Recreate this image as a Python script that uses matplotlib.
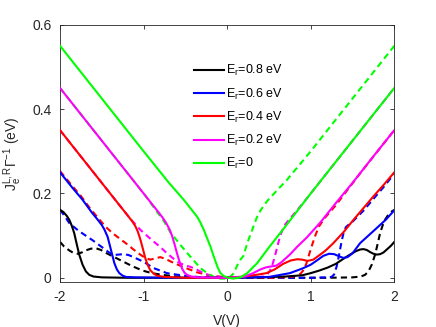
import matplotlib
matplotlib.use("Agg")
import matplotlib.pyplot as plt

plt.rcParams['font.family'] = ['Liberation Sans', 'DejaVu Sans']
plt.rcParams['mathtext.fontset'] = 'custom'
plt.rcParams['mathtext.rm'] = 'Liberation Sans'
plt.rcParams['mathtext.it'] = 'Liberation Sans:italic'

labels = [r'E$_\mathrm{r}$=0.8 eV', r'E$_\mathrm{r}$=0.6 eV', r'E$_\mathrm{r}$=0.4 eV',
          r'E$_\mathrm{r}$=0.2 eV', r'E$_\mathrm{r}$=0']
colors = ['#000000', '#0000ff', '#ff0000', '#ff00ff', '#00ff00']

# Er = 0.8 eV
v_k = [-2.0, -1.96, -1.92, -1.89, -1.86, -1.83, -1.80, -1.77, -1.73, -1.69, -1.65, -1.60,
       -1.5, -1.2, -0.6, 0.0, 0.4, 0.7, 0.9, 1.0, 1.1, 1.2, 1.3, 1.39, 1.47, 1.54, 1.59,
       1.63, 1.67, 1.71, 1.75, 1.79, 1.83, 1.87, 1.91, 1.96, 2.0]
jl_k = [0.161, 0.156, 0.147, 0.138, 0.124, 0.106, 0.080, 0.055, 0.031, 0.015, 0.007, 0.003,
        0.001, 0.0, 0.0, 0.0, 0.001, 0.003, 0.006, 0.011, 0.017, 0.024, 0.033, 0.045, 0.055,
        0.063, 0.067, 0.068, 0.066, 0.061, 0.057, 0.055, 0.056, 0.060, 0.067, 0.076, 0.085]
vr_k = [-2.0, -1.95, -1.89, -1.84, -1.79, -1.74, -1.69, -1.63, -1.57, -1.51, -1.45, -1.37,
        -1.29, -1.21, -1.13, -1.01, -0.9, -0.78, -0.6, -0.3, 0.0, 0.6, 1.2, 1.5, 1.6, 1.65,
        1.69, 1.73, 1.77, 1.80, 1.83, 1.86, 1.89, 1.92, 1.96, 2.0]
jr_k = [0.085, 0.074, 0.065, 0.059, 0.057, 0.060, 0.065, 0.069, 0.070, 0.066, 0.059, 0.051,
        0.043, 0.035, 0.027, 0.017, 0.011, 0.007, 0.003, 0.001, 0.0, 0.0, 0.0, 0.001, 0.003,
        0.007, 0.015, 0.031, 0.055, 0.080, 0.106, 0.124, 0.138, 0.147, 0.156, 0.161]

# Er = 0.6 eV
v_b = [-2.0, -1.85, -1.73, -1.62, -1.55, -1.50, -1.47, -1.43, -1.39, -1.35, -1.32, -1.29,
       -1.25, -1.21, -1.1, -0.6, 0.0, 0.3, 0.5, 0.75, 0.9, 1.0, 1.08, 1.15, 1.22, 1.28,
       1.34, 1.39, 1.44, 1.5, 1.59, 1.69, 1.79, 1.9, 2.0]
jl_b = [0.250, 0.213, 0.185, 0.155, 0.138, 0.125, 0.115, 0.097, 0.066, 0.035, 0.020, 0.011,
        0.005, 0.002, 0.001, 0.0, 0.0, 0.001, 0.002, 0.011, 0.022, 0.031, 0.042, 0.052,
        0.057, 0.056, 0.051, 0.047, 0.049, 0.058, 0.082, 0.100, 0.118, 0.138, 0.160]
vr_b = [-2.0, -1.95, -1.89, -1.8, -1.73, -1.61, -1.5, -1.42, -1.36, -1.3, -1.24, -1.18,
        -1.1, -1.0, -0.88, -0.72, -0.52, -0.3, 0.0, 0.6, 1.0, 1.2, 1.25, 1.28, 1.31, 1.33,
        1.35, 1.37, 1.39, 1.42, 1.46, 1.5, 1.63, 1.75, 1.88, 2.0]
jr_b = [0.161, 0.148, 0.130, 0.115, 0.105, 0.089, 0.073, 0.061, 0.054, 0.055, 0.056, 0.054,
        0.047, 0.038, 0.023, 0.011, 0.005, 0.001, 0.0, 0.0, 0.0, 0.001, 0.002, 0.008, 0.027,
        0.045, 0.066, 0.087, 0.104, 0.120, 0.127, 0.133, 0.159, 0.187, 0.217, 0.247]

# Er = 0.4 eV
v_r = [-2.0, -1.6, -1.3, -1.2, -1.14, -1.1, -1.07, -1.04, -1.01, -0.98, -0.95, -0.92,
       -0.88, -0.84, -0.75, -0.5, 0.0, 0.2, 0.35, 0.47, 0.57, 0.67, 0.76, 0.84, 0.9, 0.96,
       1.03, 1.1, 1.18, 1.27, 1.4, 1.51, 1.63, 1.75, 1.88, 2.0]
jl_r = [0.350, 0.250, 0.175, 0.150, 0.135, 0.123, 0.110, 0.092, 0.070, 0.047, 0.030, 0.018,
        0.010, 0.005, 0.002, 0.0, 0.0, 0.003, 0.007, 0.011, 0.020, 0.033, 0.041, 0.044,
        0.043, 0.040, 0.043, 0.053, 0.065, 0.082, 0.110, 0.137, 0.165, 0.193, 0.222, 0.250]
vr_r = [-2.0, -1.85, -1.75, -1.65, -1.55, -1.45, -1.36, -1.28, -1.2, -1.12, -1.04, -0.98,
        -0.92, -0.86, -0.8, -0.74, -0.68, -0.6, -0.52, -0.44, -0.36, -0.2, 0.0, 0.5, 0.75,
        0.84, 0.88, 0.92, 0.95, 0.98, 1.02, 1.06, 1.1, 1.16, 1.3, 1.6, 2.0]
jr_r = [0.253, 0.217, 0.194, 0.167, 0.143, 0.120, 0.104, 0.092, 0.080, 0.067, 0.055, 0.047,
        0.043, 0.046, 0.049, 0.045, 0.039, 0.032, 0.025, 0.019, 0.013, 0.005, 0.001, 0.0,
        0.002, 0.005, 0.010, 0.020, 0.035, 0.055, 0.080, 0.103, 0.122, 0.140, 0.172, 0.250,
        0.350]

# Er = 0.2 eV
v_m = [-2.0, -1.5, -1.2, -0.92, -0.82, -0.77, -0.73, -0.69, -0.66, -0.63, -0.60, -0.57,
       -0.54, -0.51, -0.48, -0.43, -0.35, 0.0, 0.19, 0.3, 0.4, 0.47, 0.53, 0.59, 0.65, 0.75,
       0.84, 0.95, 1.11, 1.3, 1.5, 1.73, 2.0]
jl_m = [0.450, 0.325, 0.250, 0.180, 0.155, 0.142, 0.130, 0.115, 0.100, 0.080, 0.058, 0.038,
        0.022, 0.012, 0.007, 0.003, 0.001, 0.0, 0.002, 0.010, 0.020, 0.025, 0.027, 0.029,
        0.037, 0.055, 0.074, 0.095, 0.130, 0.177, 0.225, 0.283, 0.350]
vr_m = [-2.0, -1.5, -1.3, -1.15, -1.04, -0.95, -0.88, -0.8, -0.72, -0.64, -0.58, -0.5,
        -0.44, -0.36, -0.28, -0.18, 0.0, 0.35, 0.43, 0.48, 0.51, 0.54, 0.57, 0.6, 0.635,
        0.67, 0.7, 0.76, 0.82, 0.92, 1.2, 1.5, 2.0]
jr_m = [0.350, 0.225, 0.175, 0.138, 0.114, 0.098, 0.086, 0.073, 0.058, 0.045, 0.036, 0.029,
        0.026, 0.019, 0.011, 0.004, 0.0, 0.001, 0.003, 0.008, 0.016, 0.030, 0.050, 0.074,
        0.100, 0.118, 0.128, 0.142, 0.156, 0.180, 0.250, 0.325, 0.450]

# Er = 0
v_g = [-2.0, -1.5, -1.0, -0.7, -0.52, -0.44, -0.36, -0.32, -0.28, -0.24, -0.20, -0.17,
       -0.14, -0.11, -0.08, -0.04, 0.0, 0.07, 0.16, 0.24, 0.36, 0.5, 0.67, 1.0, 1.5, 2.0]
jl_g = [0.550, 0.425, 0.300, 0.226, 0.185, 0.165, 0.145, 0.131, 0.114, 0.094, 0.074, 0.056,
        0.039, 0.023, 0.011, 0.004, 0.001, -0.002, 0.001, 0.011, 0.035, 0.072, 0.115, 0.200,
        0.325, 0.450]
vr_g = [-2.0, -1.5, -1.0, -0.76, -0.68, -0.56, -0.44, -0.32, -0.24, -0.16, -0.08, 0.0,
        0.04, 0.08, 0.115, 0.155, 0.195, 0.225, 0.255, 0.285, 0.315, 0.355, 0.4, 0.475,
        0.595, 0.715, 1.0, 1.5, 2.0]
jr_g = [0.450, 0.325, 0.200, 0.135, 0.108, 0.078, 0.050, 0.023, 0.011, 0.002, -0.002, -0.002,
        0.003, 0.011, 0.027, 0.042, 0.052, 0.072, 0.090, 0.106, 0.122, 0.143, 0.160, 0.181,
        0.207, 0.232, 0.300, 0.425, 0.550]

solid = [(v_k, jl_k), (v_b, jl_b), (v_r, jl_r), (v_m, jl_m), (v_g, jl_g)]
dashed = [(vr_k, jr_k), (vr_b, jr_b), (vr_r, jr_r), (vr_m, jr_m), (vr_g, jr_g)]

fig = plt.figure(figsize=(4.36, 3.27), dpi=100)
ax = fig.add_axes([0.1376, 0.1376, 0.7668, 0.7869])

# dashed (right lead) under the solid (left lead) curves
handles = []
for (vs, js), (vd, jd), c, lab in zip(solid, dashed, colors, labels):
    h, = ax.plot(vs, js, '-', color=c, lw=1.5, label=lab, zorder=3)
    ax.plot(vd, jd, '--', color=c, lw=1.5, dashes=(3, 2), zorder=2)
    handles.append(h)

ax.set_xlim(-2, 2)
ax.set_ylim(-0.01, 0.6)
ax.set_xticks([-2, -1, 0, 1, 2])
ax.set_xticklabels(['-2', '-1', '0', '1', '2'])
ax.set_yticks([0, 0.2, 0.4, 0.6])
ax.set_yticklabels(['0', '0.2', '0.4', '0.6'])
ax.tick_params(direction='in', top=True, right=True, length=3, width=0.6,
               labelsize=10, colors='0.15', pad=6)
for s in ax.spines.values():
    s.set_color('0.15')
    s.set_linewidth(0.6)

ax.set_xlabel('V(V)', fontsize=10, color='0.15', labelpad=7)
ax.set_ylabel(r'$\mathrm{J_e^{L,R}\Gamma^{-1}}$ (eV)', fontsize=10, color='0.15', labelpad=6)

ax.legend(handles=handles, loc='upper left', bbox_to_anchor=(0.40, 0.85), frameon=False,
          fontsize=9, handlelength=2.4, handletextpad=0.2, labelspacing=0.65,
          borderpad=0, borderaxespad=0)

fig.savefig('out.png', dpi=100)
